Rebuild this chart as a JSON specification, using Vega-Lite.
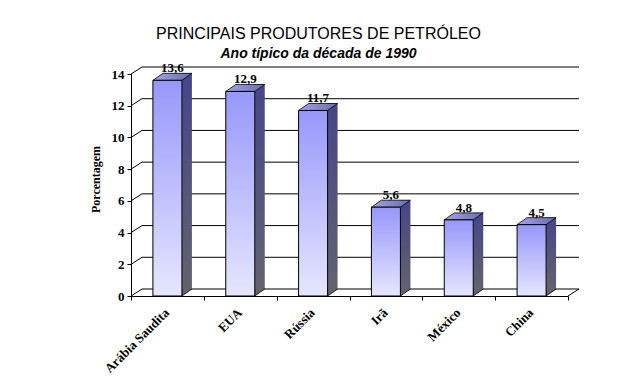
{
  "$schema": "https://vega.github.io/schema/vega-lite/v6.json",
  "width": 437,
  "height": 222,
  "autosize": "none",
  "padding": {"left": 131, "top": 74, "right": 69, "bottom": 88},
  "background": "white",
  "title": {
    "text": "PRINCIPAIS PRODUTORES DE PETRÓLEO",
    "subtitle": "Ano típico da década de 1990",
    "font": "Liberation Sans",
    "fontSize": 16,
    "fontWeight": "normal",
    "color": "black",
    "subtitleFont": "Liberation Sans",
    "subtitleFontSize": 14,
    "subtitleFontWeight": "bold",
    "subtitleFontStyle": "italic",
    "subtitleColor": "black",
    "subtitlePadding": 5,
    "anchor": "middle",
    "dx": -31,
    "offset": 1
  },
  "datasets": {
    "paises": [
      {"pais": "Arábia Saudita", "valor": 13.6},
      {"pais": "EUA", "valor": 12.9},
      {"pais": "Rússia", "valor": 11.7},
      {"pais": "Irã", "valor": 5.6},
      {"pais": "México", "valor": 4.8},
      {"pais": "China", "valor": 4.5}
    ],
    "grade": [
      {"valor": 0}, {"valor": 2}, {"valor": 4}, {"valor": 6},
      {"valor": 8}, {"valor": 10}, {"valor": 12}, {"valor": 14}
    ]
  },
  "resolve": {"scale": {"x": "independent"}, "axis": {"x": "independent"}},
  "layer": [
    {
      "data": {"name": "grade"},
      "layer": [
        {
          "mark": {"type": "rule", "color": "black", "strokeWidth": 1, "xOffset": 11, "x2Offset": 11, "yOffset": -7},
          "encoding": {
            "x": {"datum": 0, "type": "quantitative", "scale": {"domain": [0, 1]}, "axis": null},
            "x2": {"datum": 1},
            "y": {"field": "valor", "type": "quantitative", "title": "Porcentagem", "scale": {"domain": [0, 14]}}
          }
        },
        {
          "mark": {"type": "rule", "color": "black", "strokeWidth": 1, "x2Offset": 11, "y2Offset": -7},
          "encoding": {
            "x": {"datum": 0, "type": "quantitative", "scale": {"domain": [0, 1]}, "axis": null},
            "x2": {"datum": 0},
            "y": {"field": "valor", "type": "quantitative", "title": "Porcentagem"},
            "y2": {"field": "valor"}
          }
        },
        {
          "transform": [{"filter": "datum.valor == 0"}],
          "mark": {"type": "rule", "color": "black", "strokeWidth": 1, "x2Offset": 11, "y2Offset": -7},
          "encoding": {
            "x": {"datum": 1, "type": "quantitative", "scale": {"domain": [0, 1]}, "axis": null},
            "x2": {"datum": 1},
            "y": {"field": "valor", "type": "quantitative", "title": "Porcentagem"},
            "y2": {"field": "valor"}
          }
        }
      ]
    },
    {
      "data": {"name": "paises"},
      "encoding": {
        "x": {"field": "pais", "type": "nominal", "sort": null, "title": null,
              "scale": {"paddingInner": 0, "paddingOuter": 0}},
        "y": {"field": "valor", "type": "quantitative", "title": "Porcentagem"}
      },
      "layer": [
        {
          "mark": {"type": "bar", "width": 10, "xOffset": 19.5, "yOffset": -7, "y2Offset": -7, "strokeWidth": 0,
                   "fill": {"gradient": "linear", "x1": 0, "y1": 0, "x2": 0, "y2": 1,
                            "stops": [{"offset": 0, "color": "#46468a"}, {"offset": 1, "color": "#62626e"}]}}
        },
        {
          "mark": {"type": "point", "filled": true, "opacity": 1, "size": 1600,
                   "shape": "M 0.725 -0.35 L 0.725 0 L 1.225 -0.35",
                   "fill": "#62626e", "stroke": "black", "strokeWidth": 0.8},
          "encoding": {
            "y": {"datum": 0, "type": "quantitative", "title": "Porcentagem"}
          }
        },
        {
          "mark": {"type": "point", "filled": true, "opacity": 1, "size": 1600,
                   "shape": "M -0.725 0 L 0.725 0 L 1.225 -0.35 L -0.225 -0.35 Z",
                   "fill": {"gradient": "linear", "x1": 0, "y1": 0, "x2": 1, "y2": 0,
                            "stops": [{"offset": 0, "color": "#a4a4e8"}, {"offset": 1, "color": "#6a6aae"}]},
                   "stroke": "black", "strokeWidth": 0.8}
        },
        {
          "mark": {"type": "bar", "width": 29, "stroke": "black", "strokeWidth": 1,
                   "fill": {"gradient": "linear", "x1": 0, "y1": 0, "x2": 0, "y2": 1,
                            "stops": [{"offset": 0, "color": "#9797fb"}, {"offset": 1, "color": "#e6e6ff"}]}}
        },
        {
          "mark": {"type": "text", "font": "Liberation Serif", "fontSize": 13, "fontWeight": "bold",
                   "color": "black", "dx": 5, "dy": -8, "baseline": "alphabetic", "align": "center"},
          "encoding": {
            "text": {"field": "valor", "type": "quantitative", "format": ".1f"}
          }
        }
      ]
    }
  ],
  "config": {
    "locale": {"number": {"decimal": ",", "thousands": ".", "grouping": [3], "currency": ["R$", ""]}},
    "view": {"stroke": null},
    "axisY": {
      "grid": false,
      "values": [0, 2, 4, 6, 8, 10, 12, 14],
      "domainColor": "black",
      "domainWidth": 1,
      "tickColor": "black",
      "tickSize": 4,
      "labelFont": "Liberation Serif",
      "labelFontSize": 13,
      "labelFontWeight": "bold",
      "labelColor": "black",
      "labelPadding": 3,
      "titleFont": "Liberation Serif",
      "titleFontSize": 12,
      "titleFontWeight": "bold",
      "titleColor": "black",
      "titlePadding": 9,
      "titleY": 105
    },
    "axisX": {
      "grid": false,
      "tickBand": "extent",
      "domainColor": "black",
      "domainWidth": 1,
      "tickColor": "black",
      "tickSize": 4,
      "labelAngle": -45,
      "labelFont": "Liberation Serif",
      "labelFontSize": 13,
      "labelFontWeight": "bold",
      "labelColor": "black",
      "labelPadding": 6,
      "labelOffset": -5
    }
  }
}
